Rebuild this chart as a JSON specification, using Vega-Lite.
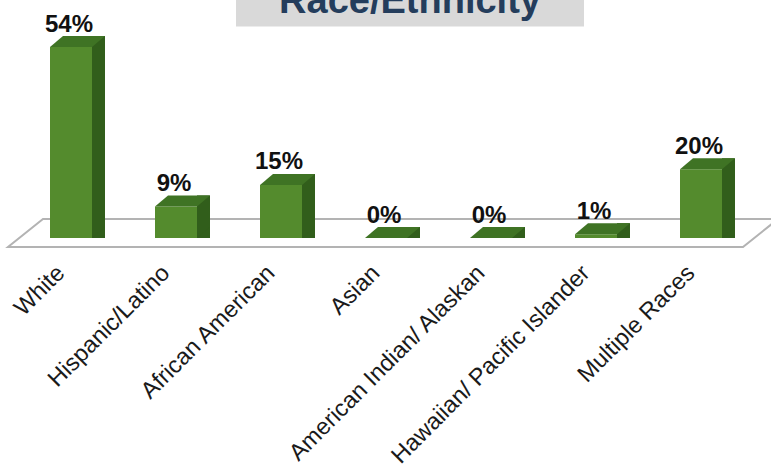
{
  "$schema": "https://vega.github.io/schema/vega-lite/v6.json",
  "width": 735,
  "height": 238,
  "autosize": {"type": "none"},
  "padding": {"left": 18.5, "top": 0, "right": 17.5, "bottom": 228},
  "background": "white",
  "config": {"view": {"stroke": null}},
  "datasets": {
    "races": [
      {"group": "White", "share": 0.544},
      {"group": "Hispanic/Latino", "share": 0.09},
      {"group": "African American", "share": 0.151},
      {"group": "Asian", "share": 0},
      {"group": "American Indian/ Alaskan", "share": 0},
      {"group": "Hawaiian/ Pacific Islander", "share": 0.011},
      {"group": "Multiple Races", "share": 0.196}
    ],
    "heading": [{"title": "Race/Ethnicity"}]
  },
  "data": {"name": "races"},
  "layer": [
    {
      "data": {"name": "heading"},
      "mark": {"type": "point", "filled": true, "opacity": 1, "fill": "white", "stroke": "#b3b3b3", "strokeWidth": 2,
        "shape": "M -0.9643 0.02296 L 0.9107 0.02296 L 1 -0.04847 L -0.875 -0.04847 Z", "size": 614656},
      "encoding": {
        "x": {"datum": "Asian", "type": "nominal",
          "scale": {"domain": ["White", "Hispanic/Latino", "African American", "Asian", "American Indian/ Alaskan", "Hawaiian/ Pacific Islander", "Multiple Races"], "paddingInner": 0, "paddingOuter": 0},
          "axis": {"title": null, "domain": false, "ticks": false, "grid": false, "labelAngle": -45, "labelAlign": "right", "labelBaseline": "middle",
            "labelFont": "Liberation Sans", "labelFontSize": 23.5, "labelColor": "#1a1a1a", "labelPadding": 31, "labelOffset": -10,
            "labelLimit": 500, "labelOverlap": false, "labelBound": false}},
        "y": {"datum": 0, "type": "quantitative", "scale": {"domain": [0, 0.678], "nice": false, "zero": true}, "axis": null}
      }
    },
    {
      "data": {"name": "heading"},
      "mark": {"type": "point", "filled": true, "opacity": 1, "fill": "#d9d9d9", "strokeWidth": 0,
        "shape": "M -0.7576 -0.0505 L 1 -0.0505 L 1 0.1338 L -0.7576 0.1338 Z", "size": 156816},
      "encoding": {
        "x": {"datum": "Asian", "type": "nominal"},
        "y": {"datum": 0.678, "type": "quantitative"}
      }
    },
    {
      "data": {"name": "heading"},
      "mark": {"type": "text", "font": "Liberation Sans", "fontWeight": "bold", "fontSize": 38, "color": "#243d5c", "align": "center", "baseline": "alphabetic", "dx": 24, "dy": 13},
      "encoding": {
        "x": {"datum": "Asian", "type": "nominal"},
        "y": {"datum": 0.678, "type": "quantitative"},
        "text": {"field": "title"}
      }
    },
    {
      "mark": {"type": "bar", "width": 13, "xOffset": 27.5, "yOffset": -11, "y2Offset": -11, "color": "#315e1b"},
      "encoding": {
        "x": {"field": "group", "type": "nominal"},
        "y": {"field": "share", "type": "quantitative", "stack": null}
      }
    },
    {
      "mark": {"type": "point", "filled": true, "opacity": 1, "fill": "#315e1b", "strokeWidth": 0,
        "shape": "M 0.6176 0 L 0.6176 -0.3235 L 1 -0.3235 Z", "size": 4624},
      "encoding": {
        "x": {"field": "group", "type": "nominal"},
        "y": {"datum": 0, "type": "quantitative"}
      }
    },
    {
      "mark": {"type": "bar", "width": 42, "color": "#548b2d"},
      "encoding": {
        "x": {"field": "group", "type": "nominal"},
        "y": {"field": "share", "type": "quantitative", "stack": null}
      }
    },
    {
      "mark": {"type": "point", "filled": true, "opacity": 1, "fill": "#3f7324", "strokeWidth": 0,
        "shape": "M -0.6176 0 L 0.6176 0 L 1 -0.3235 L -0.2353 -0.3235 Z", "size": 4624},
      "encoding": {
        "x": {"field": "group", "type": "nominal"},
        "y": {"field": "share", "type": "quantitative"}
      }
    },
    {
      "mark": {"type": "text", "font": "Liberation Sans", "fontWeight": "bold", "fontSize": 24, "color": "#111111", "align": "center", "baseline": "alphabetic", "dx": -2, "dy": -15.5},
      "encoding": {
        "x": {"field": "group", "type": "nominal"},
        "y": {"field": "share", "type": "quantitative"},
        "text": {"field": "share", "type": "quantitative", "format": ".0%"}
      }
    }
  ]
}
